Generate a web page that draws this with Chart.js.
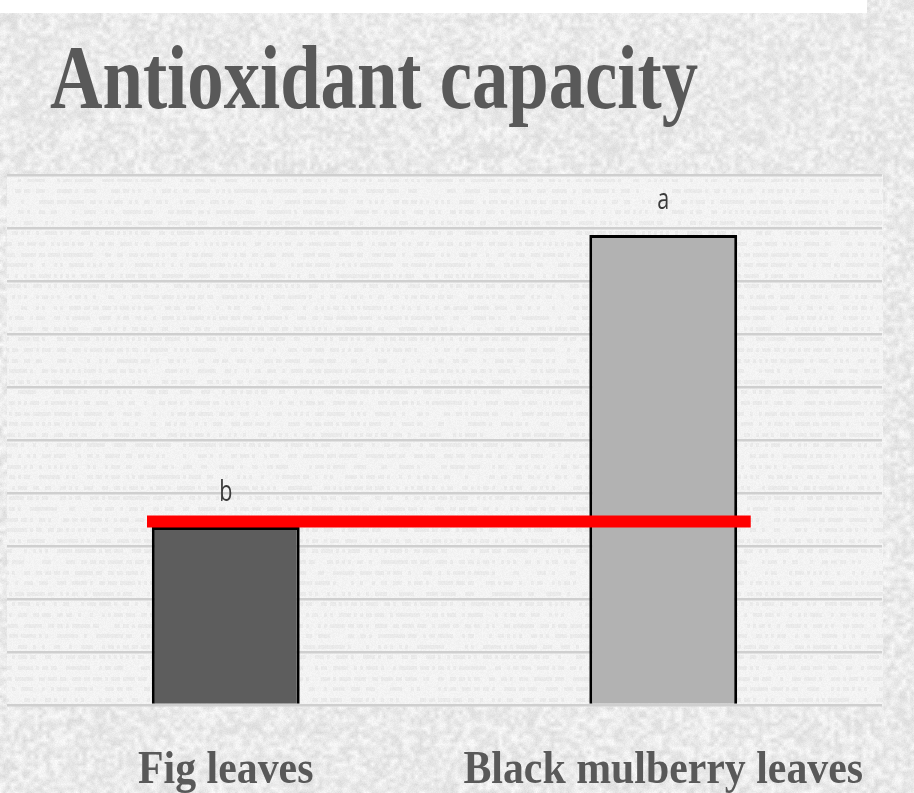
<!DOCTYPE html>
<html>
<head>
<meta charset="utf-8">
<script src="https://cdn.jsdelivr.net/npm/chart.js@4.4.1/dist/chart.umd.min.js"></script>
<style>
  html, body { margin: 0; padding: 0; background: #e9e9e9; }
  canvas { display: block; }
</style>
</head>
<body>
<canvas id="chart" width="914" height="793"></canvas>
<script>
const chartTitle = "Antioxidant capacity";
const categories = ["Fig leaves", "Black mulberry leaves"];
const capacity = [3.36, 8.87];
const letters = ["b", "a"];
const barColors = ["#5d5d5d", "#b2b2b2"];
const referenceLevel = 3.46;
const referenceSpan = [-0.18, 1.2];
const yMin = 0;
const yMax = 10;
const yStep = 1;

// cheap deterministic noise for the paper texture
function hash(x, y) {
    let h = (x * 374761393 + y * 668265263) | 0;
    h = Math.imul(h ^ (h >>> 13), 1274126177);
    h = h ^ (h >>> 16);
    return (h >>> 0) / 4294967296;
}

function smoothNoise(x, y, cell) {
    const gx = Math.floor(x / cell), gy = Math.floor(y / cell);
    const fx = (x % cell) / cell, fy = (y % cell) / cell;
    const a = hash(gx, gy), b = hash(gx + 1, gy);
    const c = hash(gx, gy + 1), d = hash(gx + 1, gy + 1);
    const top = a + (b - a) * fx;
    const bottom = c + (d - c) * fx;
    return top + (bottom - top) * fy;
}

const paperBackground = {
    id: "paperBackground",
    beforeDraw(chart) {
        const { ctx, width, height, chartArea } = chart;
        const img = ctx.createImageData(width, height);
        const left = Math.round(chartArea.left), right = Math.round(chartArea.right);
        const top = Math.round(chartArea.top), bottom = Math.round(chartArea.bottom);
        for (let y = 0; y < height; y++) {
            for (let x = 0; x < width; x++) {
                let v;
                if (y < 13 && x < 867) {
                    v = 255;
                } else if (x >= left && x <= right && y >= top && y <= bottom) {
                    v = 243 + (hash(x, y) - 0.5) * 8;
                    // faint rows of "text" behind the plot
                    const row = (y - top) % 10.6;
                    if (row > 3 && row < 7) {
                        if (hash(Math.floor(x / 3), Math.floor((y - top) / 10.6) * 7) > 0.45) v -= 9;
                    }
                } else {
                    v = 234 + (smoothNoise(x, y, 4) - 0.5) * 28 + (hash(x, y) - 0.5) * 10;
                }
                const i = (y * width + x) * 4;
                img.data[i] = v;
                img.data[i + 1] = v;
                img.data[i + 2] = v;
                img.data[i + 3] = 255;
            }
        }
        ctx.putImageData(img, 0, 0);
    }
};

function condensedText(ctx, text, x, y, squeeze) {
    const w = ctx.measureText(text).width;
    ctx.fillText(text, x, y, w * squeeze);
}

const labelsPlugin = {
    id: "labelsPlugin",
    afterDraw(chart) {
        const { ctx } = chart;
        const bars = chart.getDatasetMeta(0).data;
        ctx.save();
        ctx.fillStyle = "#595959";
        ctx.textBaseline = "alphabetic";

        ctx.font = "bold 92px 'Liberation Serif'";
        ctx.textAlign = "left";
        condensedText(ctx, chartTitle, 50, 108, 0.79);

        ctx.font = "bold 47px 'Liberation Serif'";
        ctx.textAlign = "center";
        categories.forEach((c, i) => {
            condensedText(ctx, c, bars[i].x, 783, 0.89);
        });

        ctx.font = "30px 'Open Sans'";
        ctx.fillStyle = "#3a3a3a";
        letters.forEach((l, i) => {
            condensedText(ctx, l, bars[i].x, bars[i].y - 26, 0.72);
        });
        ctx.restore();
    }
};

new Chart(document.getElementById("chart"), {
    type: "bar",
    data: {
        labels: categories,
        datasets: [
            {
                data: capacity,
                backgroundColor: barColors,
                borderColor: "#000000",
                borderWidth: 3,
                borderSkipped: "bottom",
                barPercentage: 0.338,
                categoryPercentage: 1,
                grouped: false,
                order: 1
            },
            {
                type: "line",
                data: referenceSpan.map((x) => ({ x: x, y: referenceLevel })),
                xAxisID: "xLine",
                borderColor: "#ff0000",
                borderWidth: 12,
                borderCapStyle: "butt",
                pointRadius: 0,
                order: 0
            }
        ]
    },
    options: {
        responsive: false,
        devicePixelRatio: 1,
        animation: false,
        layout: { padding: { left: 7, right: 32, top: 175, bottom: 88 } },
        plugins: {
            legend: { display: false },
            tooltip: { enabled: false },
            title: { display: false }
        },
        scales: {
            x: { type: "category", display: false, offset: true },
            xLine: { type: "linear", display: false, offset: false, min: -0.5, max: 1.5 },
            y: {
                min: yMin,
                max: yMax,
                ticks: { display: false, stepSize: yStep },
                border: { display: false },
                grid: { color: "#cfcfcf", lineWidth: 2.5, drawTicks: false }
            }
        }
    },
    plugins: [paperBackground, labelsPlugin]
});
</script>
</body>
</html>
